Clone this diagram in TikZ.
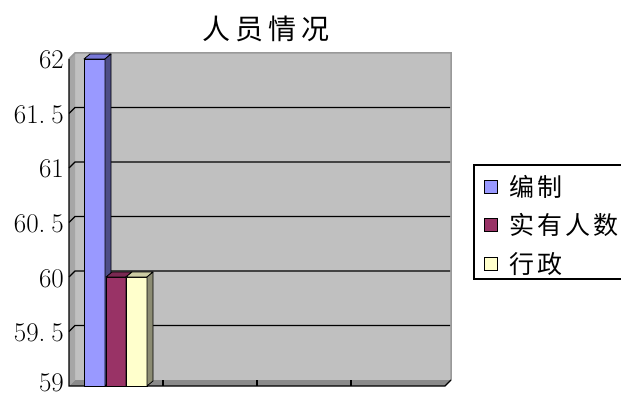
\documentclass[tikz,border=0pt]{standalone}
\usepackage{fontspec}
\usetikzlibrary{positioning}
\newfontfamily\cjklegend{Noto Sans CJK SC}[LetterSpace=12]
\newfontfamily\cjktitle{Noto Sans CJK SC}[LetterSpace=18]

\definecolor{wallgray}{HTML}{C0C0C0}
\definecolor{sidegray}{HTML}{A6A6A6}
\definecolor{floorgray}{HTML}{8A8A8A}
\definecolor{edgegray}{HTML}{999999}
\definecolor{bzblue}{HTML}{9999FF}
\definecolor{bzbluetop}{HTML}{7878D8}
\definecolor{bzblueside}{HTML}{4D4D86}
\definecolor{syred}{HTML}{993366}
\definecolor{syredtop}{HTML}{7A2952}
\definecolor{syredside}{HTML}{5C1F3D}
\definecolor{xzyellow}{HTML}{FFFFCC}
\definecolor{xzyellowtop}{HTML}{CCCCA3}
\definecolor{xzyellowside}{HTML}{8C8C73}

\tikzset{
	barface/.style={draw=black, line width=0.8pt, line join=round},
	gridline/.style={line width=1.2pt},
	ylabel/.style={anchor=base east, inner sep=0, font=\fontsize{27}{30}\selectfont},
	legkey/.style={draw=black, line width=1pt, minimum width=13pt, minimum height=13pt, inner sep=0},
	legtext/.style={inner sep=0, font=\cjklegend\fontsize{25}{28}\selectfont}
}

\begin{document}
\begin{tikzpicture}[x=1pt, y=-1pt]
\useasboundingbox (0,0) rectangle (621,398);

\fill [wallgray] (75,53) rectangle (451,380);
\fill [sidegray] (69,59) -- (75,53) -- (75,380) -- (69,386) -- cycle;
\fill [floorgray] (69,386) -- (75,380) -- (451,380) -- (445,386) -- cycle;
\draw [edgegray, line width=1.5pt] (69,59) -- (75,53) -- (451,53) -- (451,380);

\foreach \v in {1,...,5}
	\draw [gridline] (69,{59+54.5*\v}) -- ++(6,-6) -- (450,{53+54.5*\v});

\draw [line width=1.2pt] (69,59) -- (69,386) -- (445,386) -- (451,380);
\foreach \x in {163,257,351}
	\draw [line width=1.2pt] (\x,380) -- (\x,386);

\foreach \v/\t in {0/62, 1/{61.\kern6pt 5}, 2/61, 3/{60.\kern6pt 5}, 4/60, 5/{59.\kern6pt 5}}
	\node [ylabel] (ylab\v) at (64,{69+54.5*\v}) {\t};
\node [ylabel] (ylab6) at (64,391) {59};

\fill [barface, fill=bzblue] (84,59) rectangle (105,386);
\fill [barface, fill=bzbluetop] (84,59) -- (90,54) -- (111,54) -- (105,59) -- cycle;
\fill [barface, fill=bzblueside] (105,59) -- (111,54) -- (111,381) -- (105,386) -- cycle;

\fill [barface, fill=syred] (106,277) rectangle (126,386);
\fill [barface, fill=syredtop] (106,277) -- (112,272) -- (132,272) -- (126,277) -- cycle;
\fill [barface, fill=syredside] (126,277) -- (132,272) -- (132,381) -- (126,386) -- cycle;

\fill [barface, fill=xzyellow] (126,277) rectangle (147,386);
\fill [barface, fill=xzyellowtop] (126,277) -- (132,272) -- (153,272) -- (147,277) -- cycle;
\fill [barface, fill=xzyellowside] (147,277) -- (153,272) -- (153,381) -- (147,386) -- cycle;

\node (title) at (266,29) [inner sep=0, font=\cjktitle\fontsize{28}{32}\selectfont] {人员情况};

\draw [line width=1.2pt] (474,165) rectangle (624,279);
\node [legkey, fill=bzblue] (keybz) at (491,187) {};
\node [legkey, fill=syred] (keysy) at (491,225) {};
\node [legkey, fill=xzyellow] (keyxz) at (491,264) {};
\node [legtext, right=11pt of keybz] (txtbz) {编制};
\node [legtext, right=11pt of keysy] (txtsy) {实有人数};
\node [legtext, right=11pt of keyxz] (txtxz) {行政};
\end{tikzpicture}
\end{document}
